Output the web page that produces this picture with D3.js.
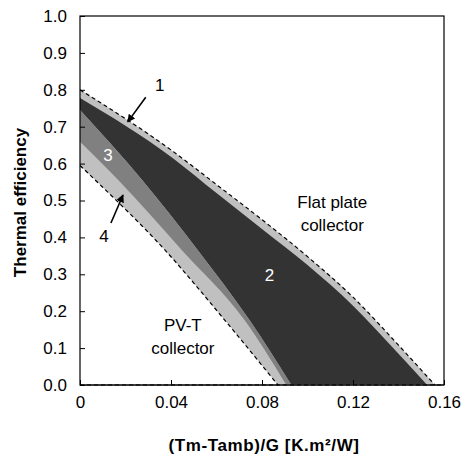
<!DOCTYPE html>
<html>
<head>
<meta charset="utf-8">
<script src="https://cdn.jsdelivr.net/npm/d3@7"></script>
<style>
  body { margin: 0; background: #fff; }
  text { font-family: Arial, "Liberation Sans", sans-serif; }
</style>
</head>
<body>
<div id="chart"></div>
<script>
// Curve boundaries: [x, efficiency]
const flatPlateUpper = [[0,0.80],[0.04,0.637],[0.06,0.543],[0.08,0.448],[0.10,0.348],[0.12,0.238],[0.14,0.108],[0.156,0]];
const darkTop = [[0,0.778],[0.041,0.614],[0.06,0.52],[0.08,0.423],[0.10,0.325],[0.12,0.215],[0.14,0.085],[0.1526,0]];
const darkBottom = [[0,0.745],[0.0272,0.556],[0.0517,0.366],[0.0745,0.176],[0.0929,0]];
const mediumBottom = [[0,0.659],[0.0167,0.556],[0.0447,0.366],[0.0723,0.176],[0.0907,0]];
const pvtLower = [[0,0.595],[0.0066,0.556],[0.0373,0.366],[0.0636,0.176],[0.087,0]];

const xTicks = [0, 0.04, 0.08, 0.12, 0.16];
const yTicks = [0, 0.1, 0.2, 0.3, 0.4, 0.5, 0.6, 0.7, 0.8, 0.9, 1.0];

const labels = [
  { t:"1", x:0.0351, y:0.813, c:"#000" },
  { t:"3", x:0.0123, y:0.623, c:"#fff" },
  { t:"4", x:0.0105, y:0.404, c:"#000" },
  { t:"2", x:0.0833, y:0.298, c:"#fff" },
  { t:"Flat plate", x:0.1109, y:0.496, c:"#000" },
  { t:"collector", x:0.1109, y:0.434, c:"#000" },
  { t:"PV-T", x:0.0452, y:0.163, c:"#000" },
  { t:"collector", x:0.0452, y:0.099, c:"#000" }
];
const arrows = [
  { from:[0.0289,0.780], to:[0.0210,0.713] },
  { from:[0.0136,0.439], to:[0.0189,0.515] }
];

const W = 462, H = 457;
const m = { left:80, right:18, top:16, bottom:72 };

const svg = d3.select("#chart").append("svg").attr("width",W).attr("height",H);

const x = d3.scaleLinear().domain([0,0.16]).range([m.left, W-m.right]);
const y = d3.scaleLinear().domain([0,1]).range([H-m.bottom, m.top]);

const line = d3.line().x(d=>x(d[0])).y(d=>y(d[1])).curve(d3.curveMonotoneX);

// filled regions: top curve forward, then bottom curve reversed
function band(top, bottom){
  const back = line(bottom.slice().reverse()).replace(/^M/, "L");
  return line(top) + back + "Z";
}

svg.append("path").attr("d", band(flatPlateUpper, pvtLower)).attr("fill","#c0c0c0");
svg.append("path").attr("d", band(darkTop, darkBottom)).attr("fill","#333333");
svg.append("path").attr("d", band(darkBottom, mediumBottom)).attr("fill","#808080");

// axis at zero, grey under dashes
svg.append("line")
  .attr("x1",x(0)).attr("x2",x(0.16)).attr("y1",y(0)).attr("y2",y(0))
  .attr("stroke","#777").attr("stroke-width",1.5);

// dashed boundary lines
[flatPlateUpper, pvtLower, [[0,0],[0.16,0]]].forEach(c=>{
  svg.append("path").attr("d", line(c))
    .attr("fill","none").attr("stroke","#000").attr("stroke-width",1.2)
    .attr("stroke-dasharray","4,3");
});

// frame
svg.append("rect")
  .attr("x",x(0)).attr("y",y(1)).attr("width",x(0.16)-x(0)).attr("height",y(0)-y(1))
  .attr("fill","none").attr("stroke","#000").attr("stroke-width",1.2);

// axes with inward ticks
const xAxis = svg.append("g").attr("transform",`translate(0,${y(0)})`)
  .call(d3.axisBottom(x).tickValues(xTicks).tickSizeInner(-5).tickSizeOuter(0)
    .tickFormat(d => d===0 ? "0" : d3.format(".2f")(d)));
xAxis.select(".domain").remove();
xAxis.selectAll("text").attr("font-size",17).attr("fill","#000").attr("dy","1.15em");
xAxis.selectAll("line").attr("stroke","#000");

const yAxis = svg.append("g").attr("transform",`translate(${x(0)},0)`)
  .call(d3.axisLeft(y).tickValues(yTicks).tickSizeInner(-5).tickSizeOuter(0).tickFormat(d3.format(".1f")));
yAxis.select(".domain").remove();
yAxis.selectAll("text").attr("font-size",17).attr("fill","#000").attr("x",-13);
yAxis.selectAll("line").attr("stroke","#000");

// axis titles
svg.append("text")
  .attr("x", (x(0)+x(0.16))/2 + 2).attr("y", 451)
  .attr("text-anchor","middle").attr("font-size",17).attr("font-weight","bold")
  .attr("letter-spacing","0.6px")
  .text("(Tm-Tamb)/G [K.m²/W]");
svg.append("text")
  .attr("transform",`translate(26,${(y(0)+y(1))/2 + 2}) rotate(-90)`)
  .attr("text-anchor","middle").attr("font-size",17).attr("font-weight","bold")
  .text("Thermal efficiency");

// labels
svg.selectAll("text.lbl").data(labels).join("text")
  .attr("class","lbl")
  .attr("x",d=>x(d.x)).attr("y",d=>y(d.y))
  .attr("dy","0.35em")
  .attr("text-anchor","middle").attr("font-size",17)
  .attr("fill",d=>d.c).text(d=>d.t);

// arrows
svg.append("defs").append("marker")
  .attr("id","ah").attr("viewBox","0 0 10 10").attr("refX",9).attr("refY",5)
  .attr("markerWidth",5).attr("markerHeight",5).attr("orient","auto")
  .append("path").attr("d","M0,0L10,5L0,10Z").attr("fill","#000");

svg.selectAll("line.arrow").data(arrows).join("line")
  .attr("class","arrow")
  .attr("x1",d=>x(d.from[0])).attr("y1",d=>y(d.from[1]))
  .attr("x2",d=>x(d.to[0])).attr("y2",d=>y(d.to[1]))
  .attr("stroke","#000").attr("stroke-width",1.6)
  .attr("marker-end","url(#ah)");
</script>
</body>
</html>
